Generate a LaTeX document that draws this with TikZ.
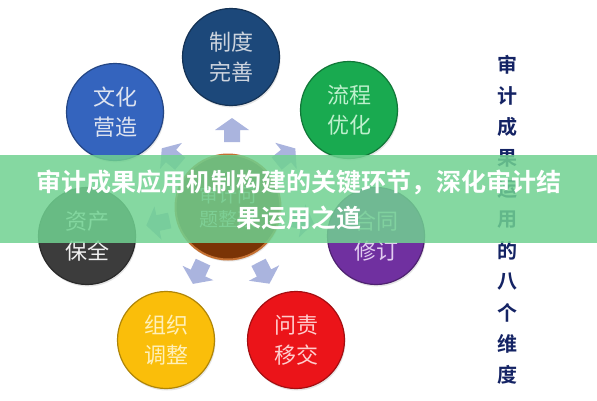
\documentclass[tikz,border=0pt]{standalone}
\usepackage{fontspec}
\newfontfamily\cjk[BoldFont={Noto Sans CJK SC Bold}]{Noto Sans CJK SC}
\usetikzlibrary{calc,shadows}

\definecolor{navyball}{RGB}{28,72,122}
\definecolor{blueball}{RGB}{52,100,190}
\definecolor{greenball}{RGB}{25,170,80}
\definecolor{grayball}{RGB}{60,60,60}
\definecolor{yellowball}{RGB}{250,190,10}
\definecolor{redball}{RGB}{235,20,25}
\definecolor{purpleball}{RGB}{112,48,160}
\definecolor{brownball}{RGB}{122,52,6}
\definecolor{brownrim}{RGB}{196,112,50}
\definecolor{arrowblue}{RGB}{170,180,222}
\definecolor{bandgreen}{RGB}{112,210,145}
\definecolor{inkblue}{RGB}{20,35,100}

\tikzset{
  ball/.style={circle, minimum size=97pt, inner sep=0pt, fill=#1, draw=#1!70!black,
    line width=1.2pt, align=center, font=\cjk\fontsize{22}{30}\selectfont,
    drop shadow={opacity=0.2, shadow xshift=1pt, shadow yshift=-2pt}},
  vtext/.style={text=inkblue, font=\cjk\bfseries\fontsize{20}{20}\selectfont, inner sep=0pt},
  title/.style={text=white, font=\cjk\bfseries\fontsize{25}{30}\selectfont, inner sep=0pt}
}

\def\blockarrow(#1)(#2){\fill[arrowblue, shift={(#1)}, rotate=#2] (-12,-8) -- (0,-8) -- (0,-17) -- (12,0) -- (0,17) -- (0,8) -- (-12,8) -- cycle;}

\begin{document}
\begin{tikzpicture}[x=1pt, y=-1pt]
	%%%%% START %%%%%
	
	\fill[white] (0,0) rectangle (597,400);
	
	\node[ball=brownball, draw=brownrim, line width=2pt, minimum size=105pt,
		text={rgb,255:red,205;green,190;blue,170},
		font=\cjk\fontsize{19}{24}\selectfont] (ctr) at (228,207) {审计问\\题整改};
	
	\node[ball=navyball, text={rgb,255:red,205;green,212;blue,222}] (zd) at (231,57) {制度\\完善};
	\node[ball=blueball, text={rgb,255:red,222;green,228;blue,240}] (wh) at (115,112) {文化\\营造};
	\node[ball=greenball, text={rgb,255:red,190;green,240;blue,205}] (lc) at (349,110) {流程\\优化};
	\node[ball=grayball, text={rgb,255:red,240;green,240;blue,240}] (zc) at (87,236) {资产\\保全};
	\node[ball=purpleball, text={rgb,255:red,226;green,204;blue,240}] (ht) at (376,236) {合同\\修订};
	\node[ball=yellowball, text={rgb,255:red,255;green,240;blue,185}] (zz) at (166,340) {组织\\调整};
	\node[ball=redball, text={rgb,255:red,255;green,205;blue,205}] (wz) at (296,340) {问责\\移交};
	
	\blockarrow(232,130)(90);
	\blockarrow(171,156)(140);
	\blockarrow(286,156)(39);
	\blockarrow(158,223)(192);
	\blockarrow(302,221)(-11);
	\blockarrow(198,273)(245);
	\blockarrow(264,273)(-63);
	
	\foreach \ch [count=\i] in {审,计,成,果,运,用,的,八,个,维,度}
		\node[vtext] (v\i) at (507, 34+31*\i) {\ch};
	
	\fill[bandgreen, opacity=0.85] (0,155) rectangle (597,243);
	
	\node[title] (t1) at (299,182) {审计成果应用机制构建的关键环节，深化审计结};
	\node[title] (t2) at (299,218) {果运用之道};
	
	%%%%% END %%%%%
\end{tikzpicture}
\end{document}
